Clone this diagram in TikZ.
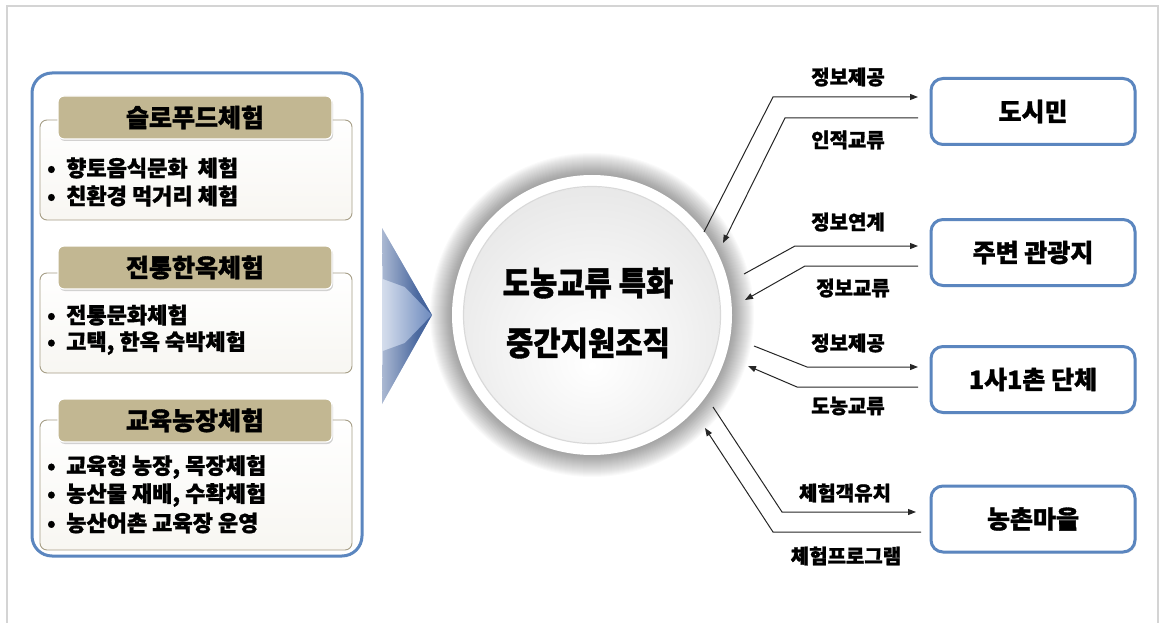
\documentclass[tikz,border=0pt]{standalone}
\usepackage{fontspec}
\setmainfont{Noto Sans CJK KR}[BoldFeatures={FakeBold=1.3}]
\usetikzlibrary{arrows.meta,shadows}
\definecolor{panelblue}{HTML}{5B86BF}
\definecolor{khaki}{HTML}{C2B792}
\definecolor{khakiline}{HTML}{A69E86}
\definecolor{chevdark}{HTML}{2C4F8F}
\definecolor{chevmid}{HTML}{5577B3}
\definecolor{framegray}{HTML}{D4D4D4}
\pgfdeclareradialshading{hubshade}{\pgfpoint{0bp}{-10bp}}{color(0bp)=(white); color(18bp)=(black!5); color(38bp)=(black!12); color(50bp)=(black!18)}
\pgfdeclarehorizontalshading{chevband}{100bp}{color(0bp)=(white); color(30bp)=(chevmid!30); color(70bp)=(chevmid!80); color(100bp)=(chevmid)}
\pgfdeclarehorizontalshading{chevfacet}{100bp}{color(0bp)=(white); color(25bp)=(chevdark!40); color(60bp)=(chevdark!85); color(100bp)=(chevdark)}
\newcommand\mybul{\makebox[19pt][l]{\raisebox{0.5pt}{\fontsize{21}{21}\selectfont •}}}
\begin{document}
\begin{tikzpicture}[x=1pt,y=-1pt,
  panel/.style={draw=panelblue,line width=3pt,rounded corners=20pt,fill=white,minimum width=330pt,minimum height=483pt,inner sep=0pt},
  subbox/.style={draw=khakiline,line width=0.9pt,rounded corners=7pt,top color=white,bottom color=khaki!12,minimum width=312pt,inner sep=0pt},
  header/.style={fill=khaki,draw=white,line width=1.2pt,rounded corners=6pt,minimum width=274pt,minimum height=43pt,inner sep=0pt,font=\fontsize{25}{25}\selectfont\bfseries,drop shadow={opacity=0.35,shadow xshift=1pt,shadow yshift=-2pt}},
  item/.style={anchor=west,font=\fontsize{22}{22}\selectfont\bfseries,inner sep=0pt},
  target/.style={draw=panelblue,line width=3pt,rounded corners=12pt,fill=white,minimum width=204pt,minimum height=66pt,inner sep=0pt,font=\fontsize{25}{25}\selectfont\bfseries,drop shadow={opacity=0.15,shadow xshift=1.5pt,shadow yshift=-1.5pt}},
  flow/.style={line width=1pt,black!85,-{Triangle[length=8pt,width=6pt]}},
  flowlabel/.style={font=\fontsize{20}{20}\selectfont\bfseries,inner sep=0pt}]
\useasboundingbox (0,0) rectangle (1160,623);
% outer frame
\draw[framegray,line width=1.5pt] (7,623) -- (7,6) -- (1158,6) -- (1158,623);

% left panel
\node[panel] (panel) at (197,314.5) {};
\node[subbox,minimum height=100pt] (sub1) at (196,170) {};
\node[subbox,minimum height=100pt] (sub2) at (196,323) {};
\node[subbox,minimum height=130pt] (sub3) at (196,485) {};
\node[header] (hdr1) at (195,117.5) {슬로푸드체험};
\node[header] (hdr2) at (195,267.5) {전통한옥체험};
\node[header] (hdr3) at (195,420.5) {교육농장체험};
\node[item] (i11) at (47,168) {\mybul 향토음식문화\ \ 체험};
\node[item] (i12) at (47,196) {\mybul 친환경 먹거리 체험};
\node[item] (i21) at (47,315) {\mybul 전통문화체험};
\node[item] (i22) at (47,343) {\mybul 고택, 한옥 숙박체험};
\node[item] (i31) at (47,467) {\mybul 교육형 농장, 목장체험};
\node[item] (i32) at (47,495) {\mybul 농산물 재배, 수확체험};
\node[item] (i33) at (47,523) {\mybul 농산어촌 교육장 운영};

% chevron
\shade[shading=chevband] (382,228) -- (432,315) -- (382,404) -- cycle;
\shade[shading=chevfacet] (382,228) -- (432,315) -- (405,287) -- (383,279) -- cycle;
\shade[shading=chevfacet] (382,404) -- (432,315) -- (405,343) -- (383,351) -- cycle;

% hub circle
\foreach \r in {141,...,162} {\fill[black,opacity=0.018] (592,315) circle[radius=\r pt];}
\node[circle,fill=white,minimum size=280pt,inner sep=0pt] (hub) at (592,315) {};
\shade[shading=hubshade] (592,315) circle[radius=128pt];
\draw[black!15,line width=1.2pt] (592,315) circle[radius=128.5pt];
\node[align=center,font=\fontsize{33}{60}\selectfont\bfseries,inner sep=0pt] (hubtext) at (588,313) {\scalebox{0.9}[1]{도농교류 특화}\\\scalebox{0.9}[1]{중간지원조직}};

% right boxes
\node[target] (city) at (1033,111.5) {도시민};
\node[target] (tour) at (1033,252.5) {주변 관광지};
\node[target] (corp) at (1033,379.5) {1사1촌 단체};
\node[target] (vill) at (1033,519) {농촌마을};

% connector points
\coordinate (a1s) at (704,232); \coordinate (a1b) at (773,97);  \coordinate (a1e) at (918,97);
\coordinate (a2s) at (918,118); \coordinate (a2b) at (785,118); \coordinate (a2e) at (723,243);
\coordinate (a3s) at (744,274); \coordinate (a3b) at (795,246); \coordinate (a3e) at (918,246);
\coordinate (a4s) at (918,266); \coordinate (a4b) at (805,266); \coordinate (a4e) at (745,300);
\coordinate (a5s) at (754,346); \coordinate (a5b) at (807,367); \coordinate (a5e) at (918,367);
\coordinate (a6s) at (918,387); \coordinate (a6b) at (797,387); \coordinate (a6e) at (748,366);
\coordinate (a7s) at (713,407); \coordinate (a7b) at (782,512); \coordinate (a7e) at (916,512);
\coordinate (a8s) at (921,532); \coordinate (a8b) at (773,532); \coordinate (a8e) at (705,428);

\draw[flow] (a1s) -- (a1b) -- (a1e);
\draw[flow] (a2s) -- (a2b) -- (a2e);
\draw[flow] (a3s) -- (a3b) -- (a3e);
\draw[flow] (a4s) -- (a4b) -- (a4e);
\draw[flow] (a5s) -- (a5b) -- (a5e);
\draw[flow] (a6s) -- (a6b) -- (a6e);
\draw[flow] (a7s) -- (a7b) -- (a7e);
\draw[flow] (a8s) -- (a8b) -- (a8e);

\node[flowlabel] (l1) at (848,77) {정보제공};
\node[flowlabel] (l2) at (848,140) {인적교류};
\node[flowlabel] (l3) at (848,222) {정보연계};
\node[flowlabel] (l4) at (853,288) {정보교류};
\node[flowlabel] (l5) at (848,343) {정보제공};
\node[flowlabel] (l6) at (848,406) {도농교류};
\node[flowlabel] (l7) at (845,493) {체험객유치};
\node[flowlabel] (l8) at (846,556) {체험프로그램};
\end{tikzpicture}
\end{document}
